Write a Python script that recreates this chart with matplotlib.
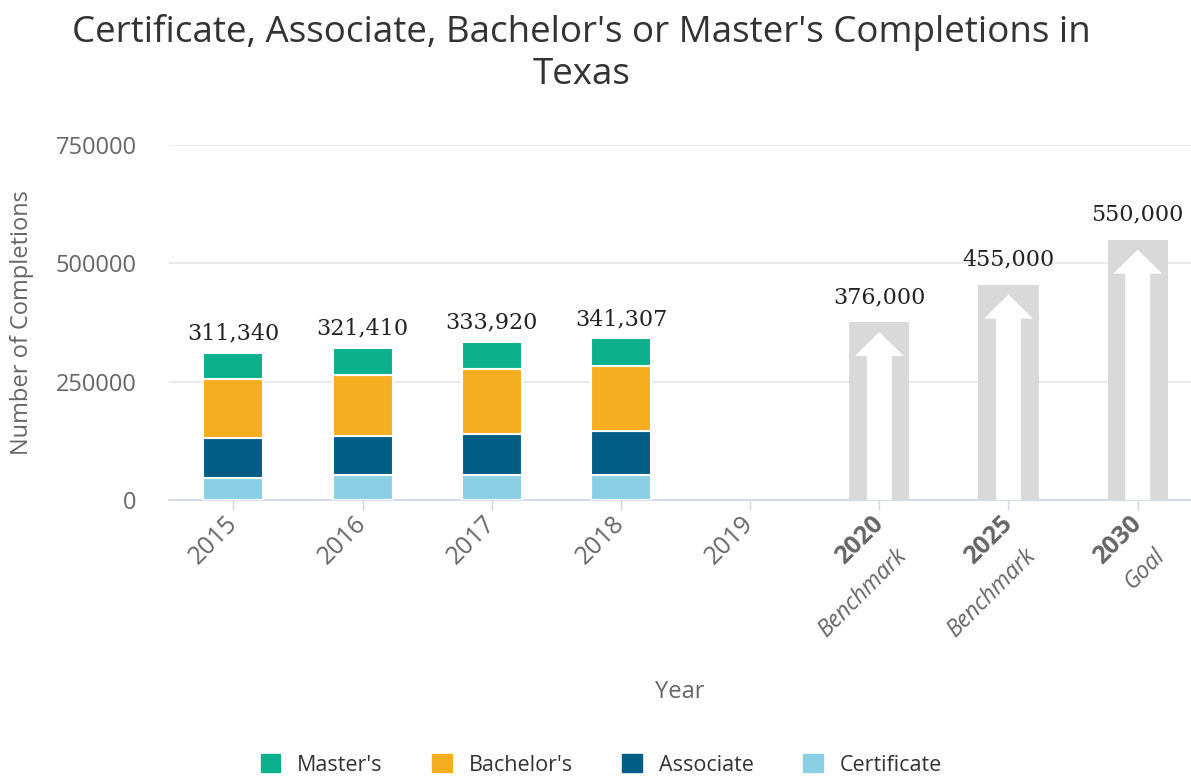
import numpy as np
import matplotlib
matplotlib.use("Agg")
import matplotlib.pyplot as plt
from matplotlib.patches import Patch

plt.rcParams['font.family'] = ['Open Sans', 'DejaVu Sans']

# data
years = ["2015", "2016", "2017", "2018", "2019", "2020", "2025", "2030"]
sublabels = ["", "", "", "", "", "Benchmark", "Benchmark", "Goal"]
certificate = [47000, 52000, 52000, 52000, 0, 0, 0, 0]
associate = [84000, 84000, 88000, 93000, 0, 0, 0, 0]
bachelors = [124000, 128000, 137000, 138000, 0, 0, 0, 0]
masters = [56340, 57410, 56920, 58307, 0, 0, 0, 0]
totals = [311340, 321410, 333920, 341307, None, None, None, None]
targets = [None, None, None, None, None, 376000, 455000, 550000]

c_cert = "#8ccfe4"
c_assoc = "#035d85"
c_bach = "#f4ae1f"
c_mast = "#0cb08c"
c_gray = "#d9d9d9"

W, H = 1191, 776
fig = plt.figure(figsize=(W / 100, H / 100), dpi=100)
ax_l, ax_r, ax_b, ax_t = 168.7, 1191, 500, 145
ax = fig.add_axes([ax_l / W, 1 - ax_b / H, (ax_r - ax_l) / W, (ax_b - ax_t) / H])

x = np.arange(len(years))
xmin, xmax = -0.5, (ax_r - 233.3) / 129.2
ymax = 750000
ax.set_xlim(xmin, xmax)
ax.set_ylim(0, ymax)

# data units per pixel
dx_px = (xmax - xmin) / (ax_r - ax_l)
dy_px = ymax / (ax_b - ax_t)

bw = 60 * dx_px
hist = [i for i, t in enumerate(totals) if t is not None]
xs = x[hist]
cert = np.array(certificate)[hist]
asso = np.array(associate)[hist]
bach = np.array(bachelors)[hist]
mast = np.array(masters)[hist]
kw = dict(width=bw, edgecolor="white", linewidth=1.5, zorder=3)
ax.bar(xs, cert, color=c_cert, **kw)
ax.bar(xs, asso, bottom=cert, color=c_assoc, **kw)
ax.bar(xs, bach, bottom=cert + asso, color=c_bach, **kw)
ax.bar(xs, mast, bottom=cert + asso + bach, color=c_mast, **kw)

for i in hist:
    top = certificate[i] + associate[i] + bachelors[i] + masters[i]
    ax.annotate(f"{totals[i]:,}", (x[i], top), xytext=(0, 6), textcoords="offset points",
                ha="center", va="bottom", fontsize=16, family="DejaVu Serif", color="#222222")

# benchmark / goal bars with white arrows
for i, t in enumerate(targets):
    if t is None:
        continue
    ax.bar(x[i], t, width=bw, color=c_gray, zorder=3)
    tip = t - 10 * dy_px
    base = tip - 24 * dy_px
    sw = 12.5 * dx_px
    hw = 24.5 * dx_px
    ax.fill([x[i] - sw, x[i] - sw, x[i] - hw, x[i], x[i] + hw, x[i] + sw, x[i] + sw],
            [0, base, base, tip, base, base, 0], color="white", lw=0, zorder=4)
    ax.annotate(f"{t:,}", (x[i], t), xytext=(0, 10), textcoords="offset points",
                ha="center", va="bottom", fontsize=16, family="DejaVu Serif", color="#222222")

# axes styling
for s in ["top", "right", "left"]:
    ax.spines[s].set_visible(False)
ax.spines["bottom"].set_color("#ccd6eb")
ax.spines["bottom"].set_linewidth(1.2)
ax.set_yticks([0, 250000, 500000, 750000])
ax.set_yticklabels(["0", "250000", "500000", "750000"])
ax.grid(axis="y", color="#e6e6e6", linewidth=1.2, zorder=0)
ax.set_axisbelow(True)
ax.tick_params(axis="y", length=0, pad=23, labelsize=17, labelcolor="#666666")
ax.tick_params(axis="x", length=7.2, width=1, color="#ccd6eb", pad=7, labelsize=18, labelcolor="#666666")

ax.set_xticks(x)
ax.set_xticklabels(years, rotation=45, ha="right", va="center", rotation_mode="anchor")
for i, lab in enumerate(ax.get_xticklabels()):
    if sublabels[i]:
        lab.set_fontweight("bold")
        ax.annotate(sublabels[i], (x[i], 0), xytext=(17, -38), textcoords="offset points",
                    rotation=45, ha="right", va="center", rotation_mode="anchor",
                    fontsize=16.5, style="italic", color="#666666")

ax.set_ylabel("Number of Completions", fontsize=17, color="#666666", va="center")
ax.yaxis.set_label_coords((22 - ax_l) / (ax_r - ax_l), 0.5)
ax.set_xlabel("Year", fontsize=17, color="#666666", va="center")
ax.xaxis.set_label_coords(0.5, (ax_b - 692) / (ax_b - ax_t))

fig.text(0.488, 1 - 14 / H, "Certificate, Associate, Bachelor's or Master's Completions in\nTexas",
         ha="center", va="top", fontsize=26.5, color="#333333", linespacing=1.22)

handles = [Patch(color=c_mast, label="Master's"), Patch(color=c_bach, label="Bachelor's"),
           Patch(color=c_assoc, label="Associate"), Patch(color=c_cert, label="Certificate")]
leg = fig.legend(handles=handles, loc="center", bbox_to_anchor=(0.505, 1 - 765 / H), ncol=4,
                 frameon=False, fontsize=15.5, handlelength=0.9, handleheight=0.9,
                 handletextpad=0.8, columnspacing=2.3)
for t in leg.get_texts():
    t.set_color("#333333")

fig.savefig("out.png", dpi=100)
